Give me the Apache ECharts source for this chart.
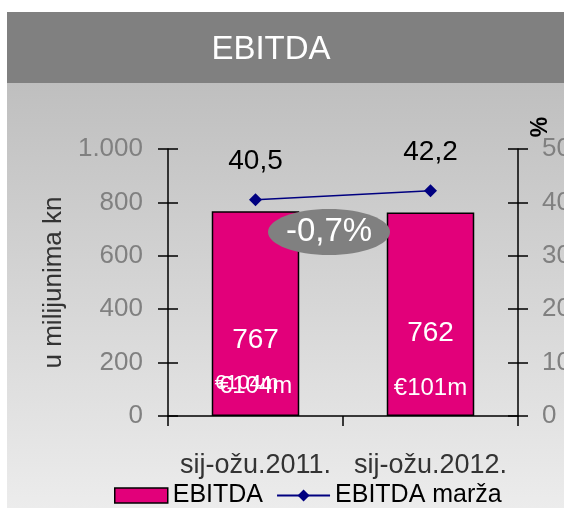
<!DOCTYPE html>
<html>
<head>
<meta charset="utf-8">
<script src="https://cdn.jsdelivr.net/npm/echarts@6/dist/echarts.min.js"></script>
<style>html,body{margin:0;padding:0;background:#fff;}#c{width:564px;height:508px;}</style>
</head>
<body>
<div id="c"></div>
<script>
const categories = ['sij-ožu.2011.', 'sij-ožu.2012.'];
const ebitda = [767, 762];
const ebitdaEur = ['€104m', '€101m'];
const marza = [40.5, 42.2];
const marzaLabels = ['40,5', '42,2'];
const changeLabel = '-0,7%';
const leftTicks = [0, 200, 400, 600, 800, 1000];
const rightTicks = [0, 10, 20, 30, 40, 50];

const FONT = "'Liberation Sans', Arial, sans-serif";

const chart = echarts.init(document.getElementById('c'), null, {renderer: 'canvas'});

function fmtThousands(v) {
  return String(v).replace(/\B(?=(\d{3})+(?!\d))/g, '.');
}

const labelLayouts = [ {la: 32, lb: 60}, {la: 54, lb: 56} ];

const barData = ebitda.map((v, i) => ({
  value: v,
  label: {
    formatter: '{a|' + v + '}\n{b|' + ebitdaEur[i] + '}',
    rich: {
      a: {fontSize: 28, fontFamily: FONT, color: '#fff', lineHeight: labelLayouts[i].la, align: 'center'},
      b: {fontSize: 24, fontFamily: FONT, color: '#fff', lineHeight: labelLayouts[i].lb, align: 'center'}
    }
  }
}));

const yCommon = {
  type: 'value', min: 0, max: 1000, interval: 200,
  splitLine: {show: false}
};

const option = {
  animation: false,
  backgroundColor: '#ffffff',
  graphic: [
    {type: 'rect', z: -10, shape: {x: 7, y: 12, width: 557, height: 71}, style: {fill: '#808080'}},
    {type: 'rect', z: -10, shape: {x: 7, y: 83, width: 557, height: 425},
      style: {fill: new echarts.graphic.LinearGradient(0, 0, 0, 1, [
        {offset: 0, color: '#bfbfbf'}, {offset: 1, color: '#ececec'}])}},
    {type: 'text', z: 10, x: 271, y: 50,
      style: {text: 'EBITDA', fill: '#fff', font: '33px ' + FONT, align: 'center', verticalAlign: 'middle'}},
    {type: 'text', z: 10, x: 541, y: 127, rotation: Math.PI / 2,
      style: {text: '%', fill: '#000', font: 'bold 23px ' + FONT, align: 'center', verticalAlign: 'middle'}},
    {type: 'ellipse', z: 100, shape: {cx: 329, cy: 232, rx: 61, ry: 23},
      style: {fill: '#808080'},
      textContent: {style: {text: changeLabel, fill: '#fff', font: '33px ' + FONT}, z: 101},
      textConfig: {position: 'inside'}}
  ],
  grid: {left: 168, right: 46, top: 149, bottom: 92, containLabel: false, outerBoundsMode: 'none'},
  legend: {
    left: 109, top: 478, itemWidth: 53, itemHeight: 15, itemGap: 13,
    textStyle: {fontSize: 25, fontFamily: FONT, color: '#000', lineHeight: 25},
    data: [
      {name: 'EBITDA', icon: 'rect', itemStyle: {color: '#e2007a', borderColor: '#000', borderWidth: 1.5}},
      {name: 'EBITDA marža'}
    ]
  },
  xAxis: {
    type: 'category', data: categories, boundaryGap: true,
    axisLine: {lineStyle: {color: '#000', width: 1.5}},
    axisTick: {show: true, length: 10, lineStyle: {color: '#000', width: 1.5}},
    axisLabel: {fontSize: 27, fontFamily: FONT, color: '#333', margin: 36, interval: 0, hideOverlap: false}
  },
  yAxis: [
    Object.assign({}, yCommon, {
      position: 'left',
      name: 'u milijunima kn', nameLocation: 'middle', nameRotate: 90, nameGap: 98,
      nameTextStyle: {fontSize: 26, fontFamily: FONT, color: '#333'},
      axisLine: {show: true, lineStyle: {color: '#000', width: 1.5}},
      axisTick: {show: true, inside: false, length: 10, lineStyle: {color: '#000', width: 1.5}},
      axisLabel: {fontSize: 26, fontFamily: FONT, color: '#808080', margin: 25,
        formatter: v => leftTicks.indexOf(v) >= 0 ? fmtThousands(v) : ''}
    }),
    Object.assign({}, yCommon, {
      position: 'left',
      axisLine: {show: false},
      axisTick: {show: true, inside: true, length: 10, lineStyle: {color: '#000', width: 1.5}},
      axisLabel: {show: false}
    }),
    {
      type: 'value', min: 0, max: 50, interval: 10, position: 'right',
      splitLine: {show: false},
      axisLine: {show: true, lineStyle: {color: '#000', width: 1.5}},
      axisTick: {show: true, inside: false, length: 10, lineStyle: {color: '#000', width: 1.5}},
      axisLabel: {fontSize: 26, fontFamily: FONT, color: '#808080', margin: 24,
        formatter: v => rightTicks.indexOf(v) >= 0 ? String(v) : ''}
    },
    {
      type: 'value', min: 0, max: 50, interval: 10, position: 'right',
      splitLine: {show: false},
      axisLine: {show: false},
      axisTick: {show: true, inside: true, length: 10, lineStyle: {color: '#000', width: 1.5}},
      axisLabel: {show: false}
    }
  ],
  series: [
    {
      name: 'EBITDA', type: 'bar', yAxisIndex: 0, barWidth: '50%',
      itemStyle: {color: '#e2007a', borderColor: '#000', borderWidth: 1.5},
      label: {show: true, position: 'insideBottom', distance: 0},
      data: barData
    },
    {
      name: 'ghost', type: 'scatter', yAxisIndex: 0, symbol: 'circle', symbolSize: 1, silent: true,
      itemStyle: {opacity: 0},
      label: {show: true, position: 'inside', offset: [-9, 0], formatter: p => p.data.text,
        fontSize: 21, fontFamily: FONT, color: '#fff', opacity: 1},
      data: [{value: [categories[0], 124], text: ebitdaEur[0]}],
      z: 5
    },
    {
      name: 'EBITDA marža', type: 'line', yAxisIndex: 2,
      symbol: 'diamond', symbolSize: 13,
      lineStyle: {color: '#000080', width: 1.5},
      itemStyle: {color: '#000080'},
      label: {show: true, position: 'top', distance: 18, fontSize: 28, fontFamily: FONT, color: '#000',
        formatter: p => marzaLabels[p.dataIndex]},
      data: marza,
      z: 4
    }
  ]
};
chart.setOption(option);
</script>
</body>
</html>
